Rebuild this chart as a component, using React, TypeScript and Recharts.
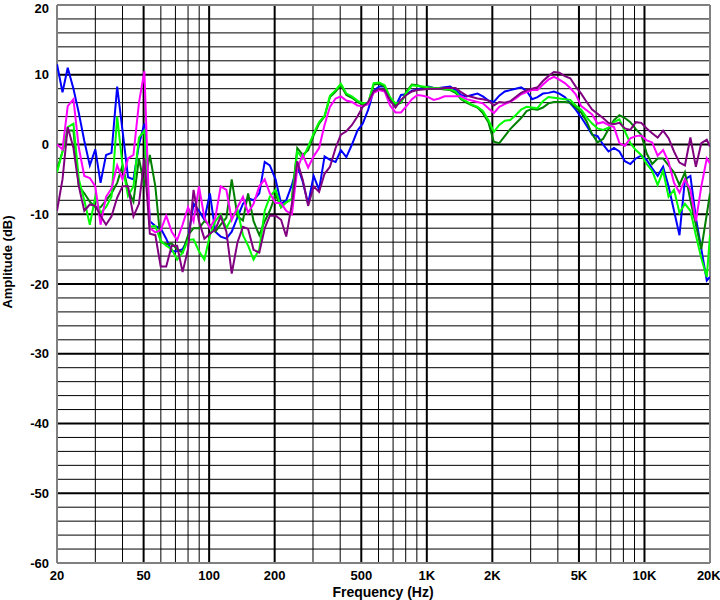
import { LineChart, Line, XAxis, YAxis, CartesianGrid, Label } from 'recharts';

// 1/12-octave frequency points (Hz)
const freqs = [
  20, 21.2, 22.4, 23.8, 25.2, 26.7, 28.3, 30, 31.7, 33.6, 35.6, 37.8, 40, 42.4, 44.9, 47.6, 50.4, 53.4, 56.6, 59.9,
  63.5, 67.3, 71.3, 75.5, 80, 84.8, 89.8, 95.1, 100.8, 106.8, 113, 120, 127, 135, 143, 151, 160, 170, 180, 190,
  202, 214, 226, 240, 254, 269, 285, 302, 320, 339, 359, 381, 403, 427, 453, 480, 508, 538, 570, 604,
  640, 678, 718, 761, 806, 854, 905, 959, 1016, 1076, 1140, 1208, 1280, 1356, 1437, 1522, 1613, 1709, 1810, 1918,
  2032, 2153, 2281, 2416, 2560, 2712, 2874, 3044, 3225, 3417, 3620, 3836, 4064, 4305, 4561, 4833, 5120, 5424, 5747, 6089,
  6451, 6834, 7241, 7671, 8127, 8611, 9123, 9665, 10240, 10849, 11494, 12177, 12902, 13669, 14482, 15343, 16255, 17222, 18246, 19331,
  20000,
];

const blue = [
  11.5, 7.5, 11, 8, 4.5, 0.5, -3, -0.7, -5.5, -1.5, -1.2, 8.3, 2, -4.7, -5, 0, 3, -11, -11.7, -12,
  -13.5, -15.3, -15.3, -15, -13.5, -8.5, -9.5, -10.8, -7, -12.5, -13.2, -13.5, -12.5, -10.4, -8.5, -7.7, -8, -7, -2.5, -3,
  -5, -8.5, -8, -5.8, -3, -5.3, -8.5, -4.5, -6.5, -1.7, -2.2, -2.5, -0.8, -1.8, 0, 2, 3, 5, 7.7, 8.3,
  8.3, 6.5, 5.5, 7.1, 7.2, 7.7, 7.9, 8.1, 8.3, 8.1, 8.1, 8.2, 8.3, 7.8, 7.1, 6.9, 7.1, 7.3, 6.9, 6.3,
  6.1, 7, 7.6, 7.8, 8, 8.2, 7.7, 6.5, 6.8, 7.3, 7.4, 7.6, 7.3, 6.8, 5.9, 5, 3.9, 2.7, 1.4, 1.2,
  0, -1, -0.5, -1, -2.4, -2.8, -2, -1.6, -2.2, -3.4, -4.5, -3.2, -6, -9.5, -13, -5, -4.5, -10.5, -15, -19.5,
  -19,
];

const lime = [
  -4, -1, 2.5, 3, -5, -8, -11.5, -7.5, -9.8, -9, -7.5, 4, -3, -7.4, -6, 1, 2, -11.8, -11.7, -13.8,
  -14.5, -15, -16.5, -15.5, -13.7, -13.6, -15.3, -16.5, -13, -11, -10, -12, -10.5, -9.4, -13, -14.5, -16.5, -15, -9.5, -7.5,
  -6.5, -9, -8.3, -7.8, -1, -2, -0.3, 1.6, 3.2, 4.1, 7, 7.8, 8.7, 7.3, 6.9, 6.3, 5.9, 6, 8.8, 8.9,
  8.5, 6.8, 5.9, 6.1, 7.4, 8.5, 8.4, 8.3, 8.2, 8.1, 8.1, 8, 7.9, 7.6, 6.6, 6.2, 5.7, 5.4, 4.8, 3.5,
  1.8, 2.8, 3.4, 3.5, 4.2, 5, 5.4, 5.3, 5.2, 6.2, 6.8, 6.7, 6.6, 6.5, 6.4, 5.6, 5, 3.9, 3, 2.3,
  2.1, 2.4, 3.2, 3.6, 1.9, 0.2, -0.8, -1.5, -2.8, -3.8, -5.8, -3.8, -7.5, -6.5, -9.8, -8.5, -9.5, -13, -16.3, -19,
  -13,
];

const darkGreen = [
  -3.6, -1, 2, 2, -6, -7, -8.2, -9, -9, -8, -7, -5.5, -3, -6.5, -8.2, -2, -6, -1.5, -6, -14,
  -14.3, -14.2, -15, -15.5, -13, -12, -12, -11, -11.5, -12.5, -11.5, -10.5, -5, -10.3, -10.9, -7, -11, -13, -11, -9.5,
  -7.2, -9, -8.3, -7.8, -0.5, -1.5, -0.8, 1.3, 3, 4, 6.8, 7.6, 8.5, 7.1, 6.7, 6.1, 5.7, 5.8, 8.6, 8.7,
  8.3, 6.6, 5.7, 6, 7.6, 8.6, 8.5, 8.2, 8, 8, 8, 7.9, 7.8, 7.4, 6.5, 6, 5.6, 5.3, 4.5, 3.2,
  0.4, 0.2, 1.2, 2.2, 3, 3.8, 4.8, 5.1, 5, 5.3, 5.9, 6.1, 6.1, 6.1, 6, 5.3, 4.6, 3.3, 1.5, 0.3,
  0.8, 2.2, 3.5, 4.2, 3.8, 3.2, 2.2, 1.4, -1.3, -2.8, -2, -2, -3, -4, -5.8, -4, -8, -11.5, -15, -10,
  -7,
];

const magenta = [
  0, -0.7, 5.5, 6.5, -0.5, -4.5, -4.8, -6, -11.5, -7.5, -6.3, -3, -5, -2, -1.5, 6, 10.5, -12, -12.6, -12.3,
  -10.2, -12.5, -13.7, -11.5, -9, -11, -6, -10.5, -12, -10.5, -6, -6.5, -10.8, -9, -7.5, -9.8, -8.5, -6, -5, -7,
  -8.4, -8.4, -9.5, -10, -3.5, -1.5, -3.3, -1.7, -0.5, 2.8, 5.4, 6.6, 6.9, 6.3, 6.1, 5.6, 5.5, 5.8, 7.4, 7.8,
  7.6, 5.6, 4.6, 4.6, 5.5, 6.5, 7.1, 7, 6.8, 6.4, 6.6, 6.9, 6.9, 6.9, 6.9, 6.5, 6.3, 6.1, 5.9, 5.2,
  4.5, 5.4, 5.8, 6.1, 6.6, 7.2, 7.5, 7.8, 7.8, 8.6, 9.3, 9.7, 9.3, 8.8, 8.1, 7.2, 5.5, 4.9, 4.3, 3,
  3.2, 2.8, 2.5, 0.2, -0.2, 0.9, 1.2, 1.3, 0.6, 0.3, -1.6, -0.8, -2.5, -5.5, -6.9, -5, -6.5, -11, -6, -2,
  -2.7,
];

const purple = [
  -9.5, -5, 2.5, -0.5, -6, -9.5, -8.6, -8.8, -10.2, -11.5, -10.3, -7.6, -6, -6, -10.3, -8.5, -2, -12.8, -13, -17.5,
  -17.5, -14.5, -14.5, -18.3, -15, -6.5, -11, -13.5, -12.8, -12.2, -10.3, -12.5, -18.5, -14, -11.8, -12.1, -15.1, -15.5, -12, -10.2,
  -10.2, -10.8, -13.2, -8.5, -2.4, -5, -8.8, -6, -6.8, -4.2, -3.2, -0.5, 1.4, 1.9, 2.8, 4, 5.4, 6.1, 7.6, 8,
  7.8, 6.3, 5.3, 6.4, 7.1, 7.6, 7.8, 7.9, 8, 8, 8, 8.1, 8.1, 8.1, 7.5, 7, 6.8, 6.6, 6.5, 6.3,
  5.6, 6.1, 6, 6.2, 6.8, 7.4, 7.8, 8, 8.2, 9.1, 9.8, 10.4, 10.3, 9.8, 9.5, 8.3, 7.3, 6.1, 5, 4.4,
  3.8, 3.1, 2.9, 3.1, 2.3, 2.1, 3.2, 3.1, 2.3, 1.6, 1, 2, 0.9, -1, -2.6, -3, 1, -3.2, 0.2, 0.7,
  -0.3,
];

const xTicks = [20, 50, 100, 200, 500, 1000, 2000, 5000, 10000, 20000];
const xMajor = [50, 100, 200, 500, 1000, 2000, 5000, 10000];
const xMinor = [30, 40, 60, 70, 80, 90, 300, 400, 600, 700, 800, 900, 3000, 4000, 6000, 7000, 8000, 9000];
const yTicks = [-60, -50, -40, -30, -20, -10, 0, 10, 20];
const yMajor = [-50, -40, -30, -20, -10, 0, 10];
const yMinor = [
  -58, -56, -54, -52, -48, -46, -44, -42, -38, -36, -34, -32, -28, -26, -24, -22,
  -18, -16, -14, -12, -8, -6, -4, -2, 2, 4, 6, 8, 12, 14, 16, 18,
];

const series = [
  { key: 'blue', values: blue, color: '#0000ff' },
  { key: 'darkGreen', values: darkGreen, color: '#008000' },
  { key: 'lime', values: lime, color: '#00ff00' },
  { key: 'magenta', values: magenta, color: '#ff00ff' },
  { key: 'purple', values: purple, color: '#800080' },
];

const data = freqs.map((f, i) => {
  const row: Record<string, number> = { f };
  series.forEach((s) => {
    row[s.key] = s.values[i];
  });
  return row;
});

const fmtFreq = (v: number) => (v >= 1000 ? `${v / 1000}K` : `${v}`);

// map domain values to pixels through the axis scale the grid receives
const toPx = (axis: any, values: number[]) => {
  const s = axis?.scale;
  if (!s) return [];
  return values.map((v) => (typeof s === 'function' ? s(v) : s.map(v)));
};

const font = '"Liberation Sans", Arial, sans-serif';
const tickStyle = { fontSize: 13, fontWeight: 700, fill: '#000', fontFamily: font };

export default function App() {
  return (
    <div style={{ position: 'absolute', left: 0, top: 0, background: '#fff' }}>
      <LineChart width={720} height={600} data={data} margin={{ top: 5, right: 10, left: 0, bottom: 0 }}>
        <CartesianGrid
          stroke="#000"
          strokeWidth={1}
          horizontalCoordinatesGenerator={({ yAxis }: any) => toPx(yAxis, yMinor)}
          verticalCoordinatesGenerator={({ xAxis }: any) => toPx(xAxis, xMinor)}
        />
        <CartesianGrid
          stroke="#000"
          strokeWidth={2}
          horizontalCoordinatesGenerator={({ yAxis }: any) => toPx(yAxis, yMajor)}
          verticalCoordinatesGenerator={({ xAxis }: any) => toPx(xAxis, xMajor)}
        />
        <CartesianGrid
          stroke="#808080"
          strokeWidth={2}
          horizontalCoordinatesGenerator={({ yAxis }: any) => toPx(yAxis, [-60, 20])}
          verticalCoordinatesGenerator={({ xAxis }: any) => toPx(xAxis, [20, 20000])}
        />
        <XAxis
          dataKey="f"
          type="number"
          scale="log"
          domain={[20, 20000]}
          ticks={xTicks}
          tickFormatter={fmtFreq}
          tick={tickStyle}
          tickLine={false}
          axisLine={false}
          height={37}
          allowDataOverflow
        >
          <Label
            content={() => (
              <text x={383} y={597} textAnchor="middle" fontSize={14} fontWeight={700} fontFamily={font}>
                Frequency (Hz)
              </text>
            )}
          />
        </XAxis>
        <YAxis
          type="number"
          domain={[-60, 20]}
          ticks={yTicks}
          tick={tickStyle}
          tickLine={false}
          axisLine={false}
          width={57}
          allowDataOverflow
        >
          <Label
            content={() => (
              <text
                x={12}
                y={262}
                transform="rotate(-90 12 262)"
                textAnchor="middle"
                fontSize={13}
                fontWeight={700}
                fontFamily={font}
              >
                Amplitude (dB)
              </text>
            )}
          />
        </YAxis>
        {series.map((s) => (
          <Line
            key={s.key}
            dataKey={s.key}
            type="linear"
            stroke={s.color}
            strokeWidth={2}
            dot={false}
            isAnimationActive={false}
          />
        ))}
      </LineChart>
    </div>
  );
}
